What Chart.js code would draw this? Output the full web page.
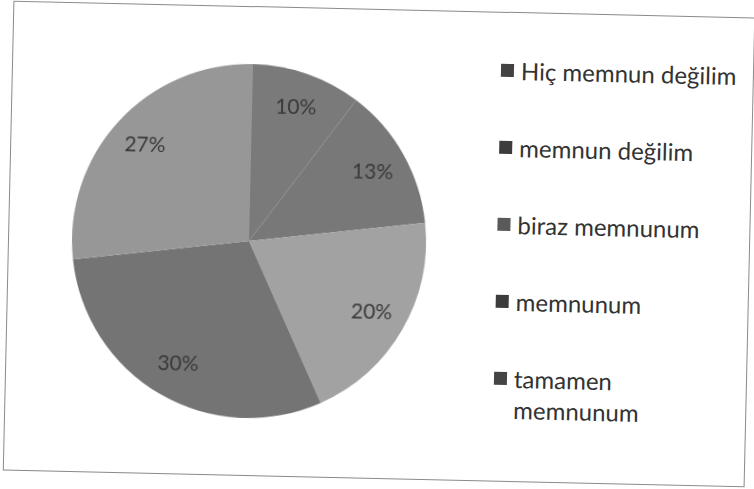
<!DOCTYPE html>
<html>
<head>
<meta charset="utf-8">
<script src="https://cdn.jsdelivr.net/npm/chart.js@4/dist/chart.umd.min.js"></script>
<style>
  html, body { margin: 0; padding: 0; background: #fff; }
  body { width: 754px; height: 489px; overflow: hidden; position: relative; }
  #frame {
    position: absolute; left: 8px; top: 9px; width: 740px; height: 468px;
    border: 1.5px solid #8a8a8a; background: #fff;
    transform: rotate(1.3deg); transform-origin: 50% 50%;
  }
  #pieBox { position: absolute; left: 0; top: 0; width: 480px; height: 468px; }
  #legend { position: absolute; left: 488px; top: 42px; font-family: Lato, "Open Sans", sans-serif; font-size: 24px; color: #333; }
  .item { display: flex; align-items: flex-start; height: 77px; }
  .sw { width: 13px; height: 13px; margin-top: 9px; margin-right: 7px; flex: none; }
  .txt { line-height: 31px; }
</style>
</head>
<body>
<div id="frame">
  <div id="pieBox"><canvas id="c"></canvas></div>
  <div id="legend"></div>
</div>
<script>
const categories = ["Hiç memnun değilim", "memnun değilim", "biraz memnunum", "memnunum", "tamamen memnunum"];
const legendLines = [["Hiç memnun değilim"], ["memnun değilim"], ["biraz memnunum"], ["memnunum"], ["tamamen", "memnunum"]];
const values = [10, 13, 20, 30, 27];
const sliceColors = ["#7a7a7a", "#787878", "#a2a2a2", "#747474", "#979797"];
const markerColors = ["#424242", "#3c3c3c", "#5a5a5a", "#3c3c3c", "#444444"];

const pctLabels = {
  id: 'pctLabels',
  afterDatasetsDraw(chart) {
    const ctx = chart.ctx;
    const meta = chart.getDatasetMeta(0);
    const total = values.reduce((a, b) => a + b, 0);
    ctx.save();
    ctx.font = '21px Lato, "Open Sans", sans-serif';
    ctx.fillStyle = '#3a3a3a';
    ctx.textAlign = 'center';
    ctx.textBaseline = 'middle';
    meta.data.forEach((arc, i) => {
      const p = arc.getProps(['x', 'y', 'startAngle', 'endAngle', 'outerRadius'], true);
      const mid = (p.startAngle + p.endAngle) / 2;
      const r = p.outerRadius * 0.8;
      ctx.fillText(Math.round(values[i] / total * 100) + '%', p.x + Math.cos(mid) * r, p.y + Math.sin(mid) * r);
    });
    ctx.restore();
  }
};

new Chart(document.getElementById('c'), {
  type: 'pie',
  data: {
    labels: categories,
    datasets: [{ data: values, backgroundColor: sliceColors, borderColor: '#a8a8a8', borderWidth: 0 }]
  },
  options: {
    responsive: true,
    maintainAspectRatio: false,
    animation: false,
    rotation: 0,
    layout: { padding: { top: 57, bottom: 57, left: 0, right: 0 } },
    plugins: { legend: { display: false }, tooltip: { enabled: false } }
  },
  plugins: [pctLabels]
});

const lg = document.getElementById('legend');
categories.forEach((c, i) => {
  const it = document.createElement('div'); it.className = 'item';
  const sw = document.createElement('div'); sw.className = 'sw'; sw.style.background = markerColors[i];
  const tx = document.createElement('div'); tx.className = 'txt';
  tx.innerHTML = legendLines[i].join('<br>');
  it.appendChild(sw); it.appendChild(tx); lg.appendChild(it);
});
</script>
</body>
</html>
